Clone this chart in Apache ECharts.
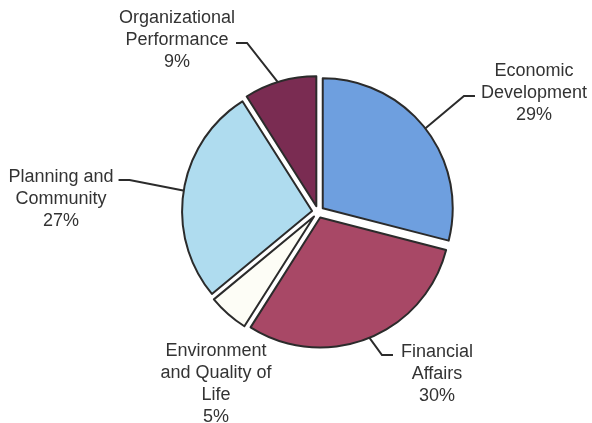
<!DOCTYPE html>
<html>
<head>
<meta charset="utf-8">
<script src="https://cdn.jsdelivr.net/npm/echarts@6/dist/echarts.min.js"></script>
<style>
  html, body { margin: 0; padding: 0; background: #ffffff; }
  #chart { width: 592px; height: 423px; }
</style>
</head>
<body>
<div id="chart"></div>
<script>
// Budget share by focus area, clockwise from 12 o'clock
const categories = [
  'Economic\nDevelopment',
  'Financial\nAffairs',
  'Environment\nand Quality of\nLife',
  'Planning and\nCommunity',
  'Organizational\nPerformance'
];
const shares = [29, 30, 5, 27, 9];

// Slice fills, same order as the categories
const sliceColors = ['#6e9fdf', '#a84866', '#fdfdf6', '#afdcef', '#7a2c52'];

// Where each label block sits: centre x and top y of its text
const labelSpots = [[534, 60], [437, 341], [216, 340], [61, 166], [177, 7]];
// Labels whose leader line meets the first text line rather than the middle one
const leadAtFirstLine = [false, true, false, true, false];
// Space left between a leader line and its text
const leaderGap = [6, 8, 0, 5, 1];
// The small slice has no leader line
const showLeader = [true, true, false, true, true];

const LINE_H = 22;
const INK = '#2b2b2b';
const PIE_CENTER = [318, 212];
const PIE_RADIUS = 130;

const chart = echarts.init(document.getElementById('chart'), null, { renderer: 'canvas' });

// Exploded slices (every slice pulled out a little from the centre)
const sliceData = categories.map((name, i) => ({
  name: name,
  value: shares[i],
  selected: true,
  itemStyle: { color: sliceColors[i] }
}));

// Same values again, invisible, carrying the labels and leader lines
const labelData = categories.map((name, i) => ({
  name: name,
  value: shares[i],
  label: {
    // top padding moves the leader to the first line; bottom padding drops it to the baseline
    padding: [leadAtFirstLine[i] ? LINE_H * 2 : 0, leaderGap[i], 6, leaderGap[i]]
  },
  labelLine: { show: showLeader[i] }
}));

chart.setOption({
  animation: false,
  backgroundColor: '#ffffff',
  series: [
    {
      type: 'pie',
      center: PIE_CENTER,
      radius: PIE_RADIUS,
      startAngle: 90,
      clockwise: true,
      selectedMode: 'multiple',
      selectedOffset: 6,
      data: sliceData,
      itemStyle: { borderColor: INK, borderWidth: 2 },
      select: { itemStyle: { borderColor: INK, borderWidth: 2 } },
      emphasis: { disabled: true },
      label: { show: false },
      labelLine: { show: false }
    },
    {
      type: 'pie',
      center: PIE_CENTER,
      radius: PIE_RADIUS,
      startAngle: 90,
      clockwise: true,
      silent: true,
      avoidLabelOverlap: false,
      selectedMode: false,
      data: labelData,
      itemStyle: { color: 'rgba(0,0,0,0)', borderWidth: 0 },
      emphasis: { disabled: true },
      label: {
        show: true,
        position: 'outside',
        alignTo: 'none',
        formatter: p => p.name + '\n' + p.value + '%',
        fontFamily: 'Liberation Sans, Arial, sans-serif',
        fontSize: 18,
        lineHeight: LINE_H,
        color: '#333333',
        backgroundColor: 'rgba(255,255,255,0)'
      },
      labelLine: {
        show: true,
        length: 10,
        length2: 11,
        smooth: false,
        lineStyle: { color: INK, width: 2 }
      },
      labelLayout: function (params) {
        const i = params.dataIndex;
        const spot = labelSpots[i];
        const pad = leadAtFirstLine[i] ? LINE_H * 2 : 0;
        return {
          x: spot[0],
          y: spot[1] - pad,
          align: 'center',
          verticalAlign: 'top'
        };
      }
    }
  ]
});
</script>
</body>
</html>
